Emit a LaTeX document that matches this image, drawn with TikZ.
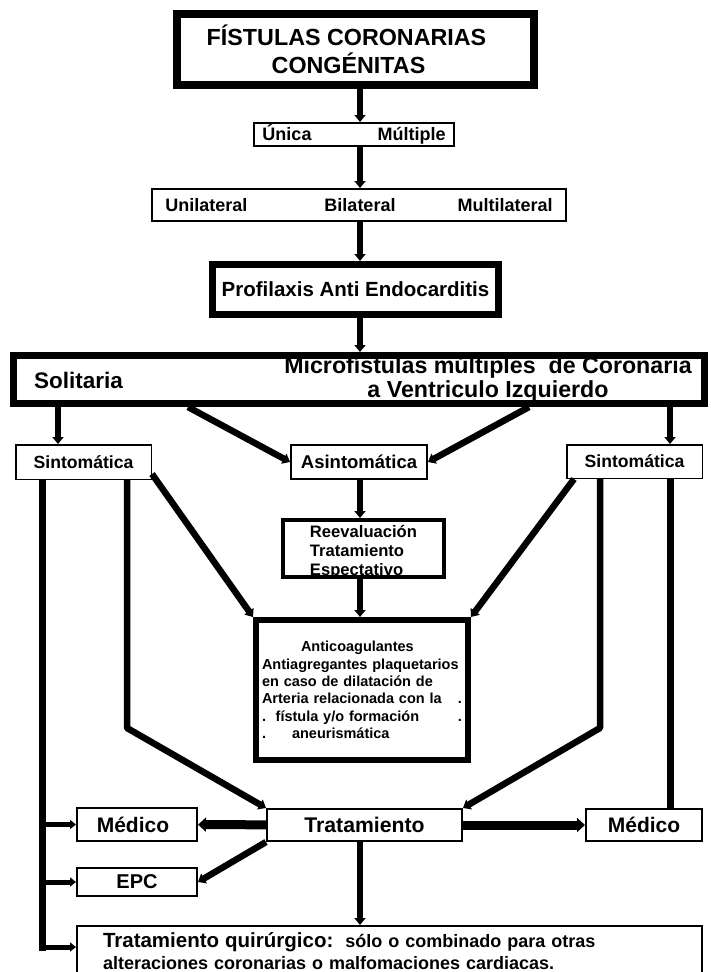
\documentclass[tikz,border=0pt]{standalone}
\usepackage{fontspec}
\setmainfont{Liberation Sans}
\usetikzlibrary{arrows.meta,positioning,calc}

\begin{document}
\begin{tikzpicture}[x=1pt, y=-1pt,
    box/.style={draw, line width=2pt, fill=white, inner sep=0pt, align=center,
                font=\fontsize{18}{21}\selectfont\bfseries},
    heavy/.style={box, line width=7pt},
    arr/.style={-{Triangle[width=11pt,length=7pt]}, line width=6.5pt, line join=round},
    fat/.style={-{Triangle[width=14pt,length=8pt]}, line width=9pt},
    branch/.style={-{Triangle[width=9pt,length=6pt]}, line width=5pt},
    wire/.style={line width=7pt}
  ]
    \useasboundingbox (0,0) rectangle (711,972);

    % upper column
    \node[heavy, line width=8pt, minimum width=357pt, minimum height=71pt,
          font=\fontsize{23.3}{28}\selectfont\bfseries] (tit) at (355.5,49.5)
      {FÍSTULAS CORONARIAS\hspace*{18pt}\\CONGÉNITAS\hspace*{14pt}};
    \node[box, minimum width=200pt, minimum height=23pt] (una) at (354,134.5)
      {Única\hspace{66pt}Múltiple};
    \node[box, minimum width=414pt, minimum height=32pt] (uni) at (359,205)
      {Unilateral\hspace{77pt}Bilateral\hspace{62pt}Multilateral};
    \node[heavy, minimum width=286pt, minimum height=50pt,
          font=\fontsize{20.5}{24}\selectfont\bfseries] (prof) at (355.5,289.5)
      {Profilaxis Anti Endocarditis};

    % wide box
    \node[heavy, minimum width=691pt, minimum height=48pt] (big) at (359,379.5) {};
    \node[font=\fontsize{22.5}{24}\selectfont\bfseries] (sol) at (78.5,380) {Solitaria};
    \node[align=center, font=\fontsize{23.2}{24}\selectfont\bfseries] (mic) at (488,379)
      {Microfístulas múltiples\ \ de Coronaria\\a Ventriculo Izquierdo};

    % second row
    \node[box, line width=1.5pt, minimum width=135.5pt, minimum height=34.5pt,
          font=\fontsize{17.6}{20}\selectfont\bfseries] (sinL) at (83.5,462) {Sintomática};
    \node[box, minimum width=136pt, minimum height=34pt,
          font=\fontsize{18.5}{20}\selectfont\bfseries] (asin) at (359,462) {Asintomática};
    \node[box, line width=1.5pt, minimum width=135.5pt, minimum height=33.5pt,
          font=\fontsize{17.6}{20}\selectfont\bfseries] (sinR) at (634.5,461.5) {Sintomática};

    \node[box, line width=4pt, minimum width=161pt, minimum height=55pt,
          font=\fontsize{16.6}{19}\selectfont\bfseries] (reev) at (363.5,548.5)
      {\raisebox{-4pt}[\height][\depth]{\begin{tabular}{@{}l@{}}Reevaluación\\Tratamiento\\Espectativo\end{tabular}}};
    \node[box, line width=6pt, minimum width=212pt, minimum height=140pt, text width=200pt,
          align=left, font=\fontsize{14.5}{17.3}\selectfont\bfseries] (anti) at (362,690)
      {\hspace*{39pt}Anticoagulantes\\
       Antiagregantes plaquetarios\\
       en caso de dilatación de\\
       Arteria relacionada con la\hfill.\\
       .\ \ fístula y/o formación\hfill.\hspace*{10pt}\\
       .\hspace{26pt}aneurismática};

    % treatment row
    \node[box, minimum width=120pt, minimum height=33pt,
          font=\fontsize{21}{24}\selectfont\bfseries] (medL) at (137,824.5) {Médico\hspace*{8pt}};
    \node[box, minimum width=120pt, minimum height=28pt,
          font=\fontsize{20}{24}\selectfont\bfseries] (epc) at (137,882) {EPC};
    \node[box, minimum width=195pt, minimum height=32pt,
          font=\fontsize{21.2}{24}\selectfont\bfseries] (trat) at (364.5,825) {Tratamiento};
    \node[box, minimum width=116pt, minimum height=32pt,
          font=\fontsize{21}{24}\selectfont\bfseries] (medR) at (644,825) {Médico};
    \node[box, minimum width=625pt, minimum height=51pt, text width=573pt, align=left,
          font=\fontsize{18}{22}\selectfont\bfseries] (quir) at (389.5,951.5)
      {{\fontsize{20.5}{22}\selectfont Tratamiento quirúrgico:}\ \ sólo o combinado para otras\\
       alteraciones coronarias o malfomaciones cardiacas.};

    % connectors
    \coordinate (axis) at (360,0);
    \coordinate (cL) at (58,0);
    \coordinate (cR) at (670,0);
    \coordinate (bus) at (42,0);
    \coordinate (kL) at (127,728);
    \coordinate (kR) at (600,728);

    \foreach \a/\b in {tit/una, una/uni, uni/prof, prof/big, asin/reev, reev/anti, trat/quir}
      \draw[arr] (\a.south -| axis) -- (\b.north -| axis);

    \draw[arr] ([xshift=-171pt]big.south) -- (asin.west);
    \draw[arr] ([xshift=170pt]big.south) -- (asin.east);
    \draw[arr] (big.south -| cL) -- (sinL.north -| cL);
    \draw[arr] (big.south -| cR) -- (sinR.north -| cR);

    \draw[arr] ([yshift=6pt]sinL.south east) -- (anti.north west);
    \draw[arr] ([xshift=8pt]sinR.south west) -- (anti.north east);
    \draw[arr] (sinL.south -| kL) -- (kL) -- (trat.north west);
    \draw[arr] (sinR.south -| kR) -- (kR) -- (trat.north east);

    \draw[wire] (sinL.south -| bus) -- ($(bus |- quir.west)+(0,-1)$);
    \draw[branch] (bus |- medL) -- (medL);
    \draw[branch] (bus |- epc) -- (epc);
    \draw[branch] ($(bus |- quir.west)+(0,-4.5)$) -- ($(quir.west)+(0,-4.5)$);
    \draw[wire] (sinR.south -| cR) -- (medR.north -| cR);

    \draw[fat] (trat) -- (medL);
    \draw[fat] (trat) -- (medR);
    \draw[arr] (trat.south west) -- (epc.east);
\end{tikzpicture}
\end{document}
